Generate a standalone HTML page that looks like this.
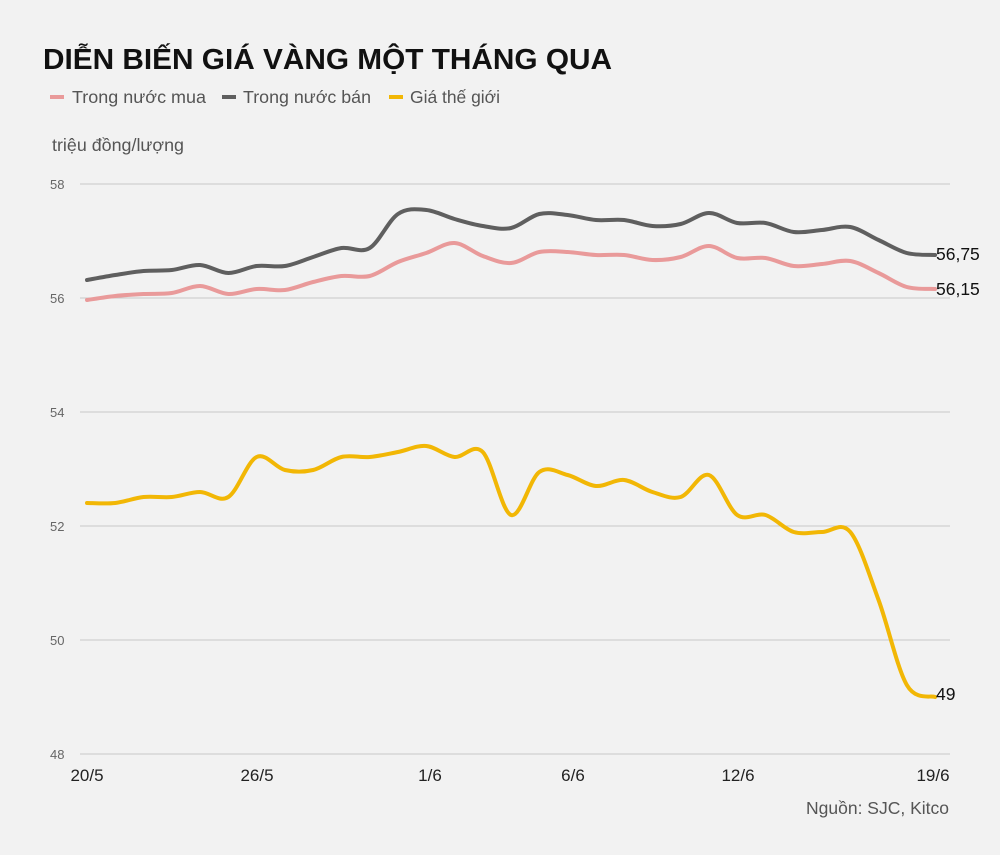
<!DOCTYPE html>
<html><head><meta charset="utf-8"><style>
body{margin:0;background:#f2f2f2;font-family:"Liberation Sans",sans-serif}
svg{display:block}
</style></head><body>
<svg id="s" width="1000" height="855" viewBox="0 0 1000 855">
<rect width="1000" height="855" fill="#f2f2f2"/>
<text x="43" y="69" font-size="29" font-weight="bold" fill="#111" textLength="569" lengthAdjust="spacingAndGlyphs">DIỄN BIẾN GIÁ VÀNG MỘT THÁNG QUA</text>
<line x1="50" y1="97" x2="64" y2="97" stroke="#e99a9a" stroke-width="4"/>
<text x="72" y="103" font-size="17.5" fill="#555" textLength="134" lengthAdjust="spacingAndGlyphs">Trong nước mua</text>
<line x1="222" y1="97" x2="236" y2="97" stroke="#5f5f5f" stroke-width="4"/>
<text x="243" y="103" font-size="17.5" fill="#555" textLength="128" lengthAdjust="spacingAndGlyphs">Trong nước bán</text>
<line x1="389" y1="97" x2="403" y2="97" stroke="#f2b705" stroke-width="4"/>
<text x="410" y="103" font-size="17.5" fill="#555" textLength="90" lengthAdjust="spacingAndGlyphs">Giá thế giới</text>
<text x="52" y="151" font-size="17.5" fill="#555" textLength="132" lengthAdjust="spacingAndGlyphs">triệu đồng/lượng</text>
<g stroke="#c8c8c8" stroke-width="1">
<line x1="80" y1="184" x2="950" y2="184"/><line x1="80" y1="298" x2="950" y2="298"/>
<line x1="80" y1="412" x2="950" y2="412"/><line x1="80" y1="526" x2="950" y2="526"/>
<line x1="80" y1="640" x2="950" y2="640"/><line x1="80" y1="754" x2="950" y2="754"/>
</g>
<g font-size="13" fill="#666">
<text x="50" y="189">58</text><text x="50" y="303">56</text><text x="50" y="417">54</text>
<text x="50" y="531">52</text><text x="50" y="645">50</text><text x="50" y="759">48</text>
</g>
<g font-size="17" fill="#222" text-anchor="middle">
<text x="87" y="781">20/5</text><text x="257" y="781">26/5</text><text x="430" y="781">1/6</text>
<text x="573" y="781">6/6</text><text x="738" y="781">12/6</text><text x="933" y="781">19/6</text>
</g>
<text x="949" y="814" font-size="17.5" fill="#555" text-anchor="end">Nguồn: SJC, Kitco</text>
<g id="lines" fill="none" stroke-width="4" stroke-linejoin="round" stroke-linecap="round"></g>
<g font-size="17.5" fill="#111">
<text x="936" y="260">56,75</text><text x="936" y="295">56,15</text><text x="936" y="700">49</text>
</g>
</svg>
<script>
var g=[503,503,497,497,492,497,457,470,470,457,457,452,446,457,452,515,472,475,486,480,492,497,475,515,515,532,532,532,600,685,697];
var sell=[280,275,271,270,265,273,266,266,257,248,248,214,210,219,226,228,214,215,220,220,226,224,213,223,223,232,230,227,240,253,255];
var buy=[300,296,294,293,286,294,289,290,282,276,276,262,253,243,256,263,252,252,255,255,260,257,246,258,258,266,264,261,273,287,289];
function path(a){var p=a.map(function(y,i){return[87+i*28.27,y]});var d="M"+p[0][0]+","+p[0][1];
for(var i=0;i<p.length-1;i++){var p0=p[Math.max(0,i-1)],p1=p[i],p2=p[i+1],p3=p[Math.min(p.length-1,i+2)];
d+=" C"+(p1[0]+(p2[0]-p0[0])/6)+","+(p1[1]+(p2[1]-p0[1])/6)+" "+(p2[0]-(p3[0]-p1[0])/6)+","+(p2[1]-(p3[1]-p1[1])/6)+" "+p2[0]+","+p2[1];}
return d;}
var L=document.getElementById("lines");
[[buy,"#e99a9a"],[sell,"#5f5f5f"],[g,"#f2b705"]].forEach(function(s){
var e=document.createElementNS("http://www.w3.org/2000/svg","path");e.setAttribute("d",path(s[0]));e.setAttribute("stroke",s[1]);L.appendChild(e);});
</script>
</body></html>
